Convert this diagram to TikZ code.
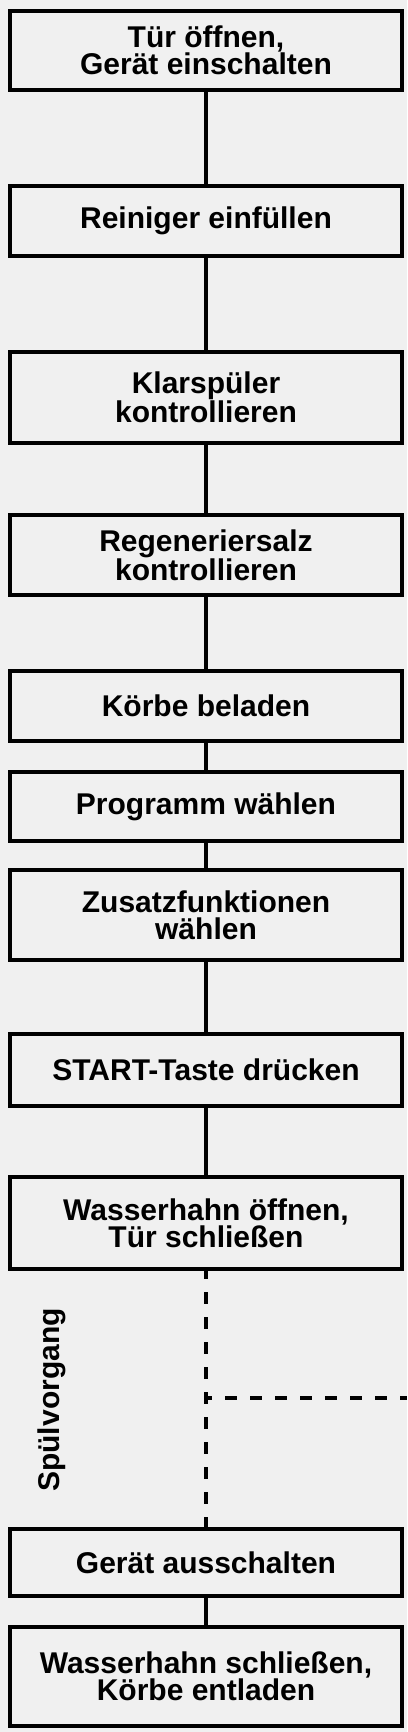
\documentclass[tikz,border=0pt]{standalone}
\usepackage{fontspec}
\setmainfont{Liberation Sans}
\definecolor{bgc}{RGB}{240,240,240}
\begin{document}
\begin{tikzpicture}[x=1pt,y=-1pt,
  stepbox/.style={draw=black, line width=3.8pt, fill=bgc, minimum width=392.2pt,
    align=center, inner sep=0pt, font=\bfseries\fontsize{30}{27}\selectfont},
  link/.style={line width=3.5pt},
  dlink/.style={line width=3.5pt, dash pattern=on 12pt off 13pt}]
\fill[bgc] (0,0) rectangle (407,1732);
\useasboundingbox (0,0) rectangle (407,1732);
\node[stepbox, minimum height=79.2pt] (b1) at (206,50.5) {Tür öffnen,\\Gerät einschalten};
\node[stepbox, minimum height=70.2pt] (b2) at (206,221) {Reiniger einfüllen};
\node[stepbox, minimum height=91.2pt] (b3) at (206,397.5) {Klarspüler\\kontrollieren};
\node[stepbox, minimum height=80.2pt] (b4) at (206,555) {Regeneriersalz\\kontrollieren};
\node[stepbox, minimum height=70.2pt] (b5) at (206,706) {Körbe beladen};
\node[stepbox, minimum height=69.2pt] (b6) at (206,806.5) {Programm wählen};
\node[stepbox, minimum height=90.2pt] (b7) at (206,915) {Zusatzfunktionen\\wählen};
\node[stepbox, minimum height=72.2pt] (b8) at (206,1070) {START-Taste drücken};
\node[stepbox, minimum height=92.2pt] (b9) at (206,1223) {Wasserhahn öffnen,\\Tür schließen};
\node[stepbox, minimum height=67.2pt] (b10) at (206,1562.5) {Gerät ausschalten};
\node[stepbox, minimum height=99.2pt] (b11) at (206,1676.5) {Wasserhahn schließen,\\Körbe entladen};
\node[rotate=90, inner sep=0pt, font=\bfseries\fontsize{30}{27}\selectfont] (sp) at (52,1400) {Spülvorgang};
\draw[link] (b1.south) -- (b2.north);
\draw[link] (b2.south) -- (b3.north);
\draw[link] (b3.south) -- (b4.north);
\draw[link] (b4.south) -- (b5.north);
\draw[link] (b5.south) -- (b6.north);
\draw[link] (b6.south) -- (b7.north);
\draw[link] (b7.south) -- (b8.north);
\draw[link] (b8.south) -- (b9.north);
\draw[link] (b10.south) -- (b11.north);
\draw[dlink, dash phase=4pt] (b9.south) -- (b10.north);
\coordinate (j) at (206,1398);
\coordinate (e) at (407,1398);
\draw[dlink, dash phase=6pt] (j) -- (e);
\end{tikzpicture}
\end{document}
